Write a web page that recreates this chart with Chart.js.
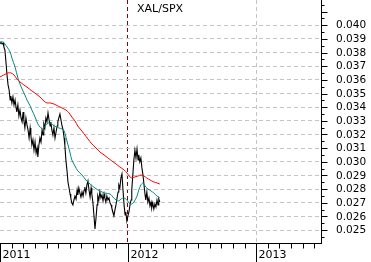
<!DOCTYPE html>
<html><head><meta charset="utf-8">
<script src="https://cdn.jsdelivr.net/npm/chart.js@4.4.1/dist/chart.umd.min.js"></script>
<style>html,body{margin:0;padding:0;background:#fff;overflow:hidden}</style>
</head><body>
<canvas id="c" width="371" height="262"></canvas>
<script>
// ---- data (days counted from 2011-01-01) ----
const chartTitle = 'XAL/SPX';
const yearLabels = ['2011', '2012', '2013'];
const yearStartDays = [0, 365, 731];
const yTickLabels = ['0.025','0.026','0.027','0.028','0.029','0.030','0.031','0.032','0.033','0.034','0.035','0.036','0.037','0.038','0.039','0.040'];

const ratioDays = [0,3,6,9,11,14,17,20,23,26,29,31,34,37,40,43,46,48,51,54,57,60,63,66,68,71,74,77,80,83,86,88,91,94,97,100,103,106,108,111,114,117,120,123,125,128,131,134,137,140,143,145,148,151,154,157,160,163,165,168,171,174,177,180,183,185,188,191,194,197,200,202,205,208,211,214,217,220,222,225,228,231,234,237,240,242,245,248,251,254,257,260,262,265,268,271,274,277,279,282,285,288,291,294,297,299,302,305,308,311,314,317,319,322,325,328,331,334,337,339,342,345,348,351,354,357,359,362,365,368,371,374,376,379,382,385,388,391,394,396,399,402,405,408,411,414,416,419,422,425,428,431,433,436,439,442,445,448,451,453,456];
const xalSpx = [0.03863,0.03878,0.03863,0.03870,0.03841,0.03819,0.03731,0.03636,0.03563,0.03526,0.03453,0.03482,0.03431,0.03475,0.03416,0.03453,0.03394,0.03365,0.03416,0.03336,0.03379,0.03321,0.03292,0.03365,0.03306,0.03248,0.03321,0.03270,0.03233,0.03174,0.03248,0.03196,0.03123,0.03160,0.03086,0.03145,0.03064,0.03101,0.03035,0.03123,0.03174,0.03145,0.03233,0.03196,0.03277,0.03248,0.03321,0.03292,0.03358,0.03306,0.03262,0.03292,0.03233,0.03196,0.03248,0.03174,0.03218,0.03262,0.03292,0.03321,0.03350,0.03306,0.03262,0.03233,0.03174,0.03123,0.03013,0.02940,0.02852,0.02808,0.02764,0.02735,0.02698,0.02684,0.02720,0.02749,0.02727,0.02793,0.02757,0.02808,0.02771,0.02742,0.02779,0.02749,0.02793,0.02815,0.02771,0.02830,0.02859,0.02793,0.02742,0.02808,0.02764,0.02705,0.02610,0.02508,0.02588,0.02684,0.02749,0.02720,0.02779,0.02735,0.02757,0.02713,0.02764,0.02735,0.02705,0.02749,0.02720,0.02735,0.02698,0.02684,0.02662,0.02632,0.02603,0.02647,0.02684,0.02735,0.02779,0.02830,0.02808,0.02881,0.02911,0.02793,0.02684,0.02610,0.02632,0.02566,0.02603,0.02632,0.02684,0.02720,0.02793,0.02903,0.03013,0.03086,0.03028,0.03094,0.03013,0.03050,0.02999,0.03028,0.02955,0.02903,0.02830,0.02757,0.02720,0.02779,0.02705,0.02735,0.02676,0.02705,0.02662,0.02698,0.02654,0.02691,0.02669,0.02720,0.02684,0.02727,0.02705];

const shortMaDays = [0,9,14,20,29,34,43,51,57,63,71,77,86,91,100,108,114,120,125,131,137,143,151,160,168,177,183,188,194,200,205,214,222,234,245,257,271,285,299,314,322,331,339,345,354,362,371,376,382,391,396,402,408,414,422,431,439,448,456];
const shortMa = [0.03870,0.03878,0.03863,0.03841,0.03804,0.03760,0.03694,0.03614,0.03570,0.03533,0.03489,0.03453,0.03409,0.03379,0.03328,0.03277,0.03255,0.03240,0.03248,0.03270,0.03284,0.03284,0.03270,0.03255,0.03248,0.03240,0.03226,0.03182,0.03123,0.03064,0.03013,0.02969,0.02933,0.02903,0.02867,0.02837,0.02808,0.02786,0.02771,0.02764,0.02742,0.02720,0.02713,0.02727,0.02735,0.02720,0.02691,0.02691,0.02705,0.02749,0.02793,0.02830,0.02845,0.02823,0.02801,0.02786,0.02771,0.02749,0.02735];

const longMaDays = [0,11,23,31,40,48,57,68,80,91,103,114,125,134,143,154,165,177,188,197,205,214,222,231,240,251,262,274,285,297,308,319,331,342,354,362,371,376,385,394,402,411,419,428,439,448,456];
const longMa = [0.03621,0.03636,0.03651,0.03651,0.03636,0.03607,0.03585,0.03563,0.03541,0.03519,0.03497,0.03475,0.03445,0.03431,0.03431,0.03423,0.03409,0.03394,0.03379,0.03358,0.03328,0.03299,0.03262,0.03233,0.03204,0.03167,0.03131,0.03101,0.03072,0.03050,0.03028,0.03006,0.02984,0.02962,0.02940,0.02918,0.02889,0.02881,0.02889,0.02896,0.02903,0.02896,0.02881,0.02867,0.02852,0.02845,0.02837];

// ---- chart ----
const pts = (xs, ys) => xs.map((x, i) => ({x: x, y: ys[i]}));
const yTickValues = yTickLabels.map(Number);

const decor = {
  id: 'decor',
  afterDraw(chart) {
    const {ctx, chartArea: a, scales: {x, y}} = chart;
    const ax = Math.round(a.right) + 0.5;
    const ay = Math.round(a.bottom) + 0.5;
    ctx.save();
    ctx.strokeStyle = '#000';
    ctx.fillStyle = '#000';
    ctx.lineWidth = 1;
    // y tick marks (half steps)
    ctx.beginPath();
    for (let i = 49; i <= 83; i++) {
      const v = i * 0.0005;
      const py = Math.round(y.getPixelForValue(v)) + 0.5;
      if (py < a.top || py > a.bottom) continue;
      const len = (i % 2 === 0) ? 6 : 3;
      ctx.moveTo(ax, py); ctx.lineTo(ax + len, py);
    }
    ctx.stroke();
    // y labels
    ctx.font = '10.5px "DejaVu Sans"';
    ctx.textAlign = 'left';
    ctx.textBaseline = 'middle';
    yTickLabels.forEach((lab, i) => {
      ctx.fillText(lab, 336, y.getPixelForValue(yTickValues[i]) + 0.5);
    });
    // x tick marks
    ctx.beginPath();
    yearStartDays.forEach((d, k) => {
      const px = Math.round(x.getPixelForValue(d)) + 0.5;
      ctx.moveTo(px, ay); ctx.lineTo(px, chart.height);
      const span = (k + 1 < yearStartDays.length ? yearStartDays[k + 1] : d + 365) - d;
      for (let j = 1; j <= 10; j++) {
        const dd = d + j * span / 11;
        if (dd >= x.max) break;
        const mx = Math.round(x.getPixelForValue(dd)) + 0.5;
        ctx.moveTo(mx, ay); ctx.lineTo(mx, ay + 5);
      }
    });
    ctx.stroke();
    // year labels
    ctx.font = '11px "DejaVu Sans"';
    ctx.textBaseline = 'middle';
    yearLabels.forEach((lab, k) => {
      ctx.fillText(lab, Math.round(x.getPixelForValue(yearStartDays[k])) + 2.5, 255);
    });
    // title
    ctx.font = '11px "DejaVu Sans"';
    ctx.fillText(chartTitle, 137, 9.5);
    ctx.restore();
  }
};

new Chart(document.getElementById('c'), {
  type: 'line',
  data: {
    datasets: [
      {label: '50d', data: pts(longMaDays, longMa), borderColor: '#ff0000', borderWidth: 1, pointRadius: 0, tension: 0.3},
      {label: '20d', data: pts(shortMaDays, shortMa), borderColor: '#00897f', borderWidth: 1, pointRadius: 0, tension: 0.3},
      {label: chartTitle, data: pts(ratioDays, xalSpx), borderColor: '#000000', borderWidth: 1.1, pointRadius: 0, tension: 0}
    ]
  },
  options: {
    responsive: false,
    animation: false,
    devicePixelRatio: 1,
    layout: {padding: 0},
    plugins: {legend: {display: false}, tooltip: {enabled: false}, title: {display: false}},
    scales: {
      x: {
        type: 'linear', position: 'bottom', min: 0, max: 916,
        afterBuildTicks: s => { s.ticks = yearStartDays.map(v => ({value: v})); },
        afterFit: s => { s.height = 19; },
        ticks: {display: false},
        grid: {
          drawTicks: false, lineWidth: 1,
          color: c => c.tick && c.tick.value === 365 ? '#8b0000' : (c.tick && c.tick.value === 731 ? '#c4c4c4' : 'rgba(0,0,0,0)')
        },
        border: {display: true, color: '#000', width: 1, dash: [4, 3]}
      },
      y: {
        type: 'linear', position: 'right', min: 0.02405, max: 0.04185,
        afterBuildTicks: s => { s.ticks = yTickValues.map(v => ({value: v})); },
        afterFit: s => { s.width = 50; },
        ticks: {display: false},
        grid: {drawTicks: false, lineWidth: 1, color: '#c4c4c4'},
        border: {display: true, color: '#000', width: 1, dash: [4, 3]}
      }
    }
  },
  plugins: [decor]
});
</script>
</body></html>
